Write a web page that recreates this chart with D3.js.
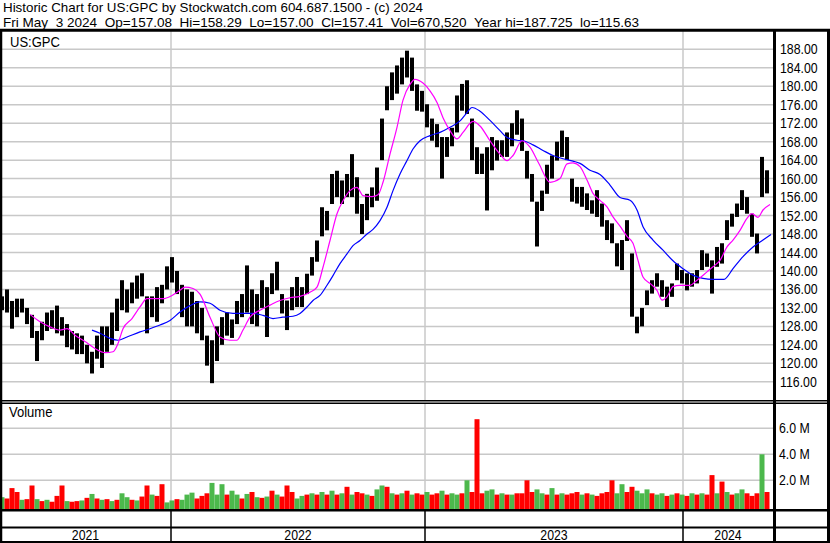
<!DOCTYPE html>
<html><head><meta charset="utf-8">
<script src="https://cdn.jsdelivr.net/npm/d3@7"></script>
<style>
body{margin:0;background:#fff}
svg{display:block}
text{font-family:"Liberation Sans",Arial,sans-serif;fill:#000}
</style>
</head><body>
<svg id="c" width="830" height="543"></svg>
<script>
// ---- data (weekly approximations) ----
const titleLine1 = "Historic Chart for US:GPC by Stockwatch.com 604.687.1500 - (c) 2024";
const titleLine2 = "Fri May  3 2024  Op=157.08  Hi=158.29  Lo=157.00  Cl=157.41  Vol=670,520  Year hi=187.725  lo=115.63";
const symbol = "US:GPC";
const yearLabels = ["2021","2022","2023","2024"];
const yearStartWeeks = [33.8, 84.6, 136.2];   // week index where 2022, 2023, 2024 begin
const totalWeeks = 153;
const priceTicks = [188,184,180,176,172,168,164,160,156,152,148,144,140,136,132,128,124,120,116];
const volTicks = [6,4,2];

const weeklyHigh = [134.5,136,133.5,134,134,132,130.5,127,129,131,131.5,132.5,130,128.5,127,126.5,126,124,122.5,126,
128,128,131,134,138,136,137.5,139,139.5,134.5,134.5,136.5,137,141,143,140,137,136,135.5,133.5,
132,126,125,128,130,131,129.5,133.5,135,141.2,136,135,138,136.5,139.5,142,135,133.6,136.5,138.7,
136.5,139.4,143,146.6,153.8,153,161,161.7,159.6,161,165.3,160.3,154.5,156.7,158.1,162.4,173,180,183,184.5,
186.2,187.7,186.2,180.4,179,176.1,173,171.8,169,169,171,178,180.5,181.3,173,166.8,165.4,166.8,169,168.3,
168.3,170,172,174.8,173,166,161,155,157.4,163,165,168,170.4,169,160,158.2,158.2,156.8,155.3,157.5,
154.6,151,150.3,146,146.7,151,143.8,130.1,132,135.8,138,139.5,138,136.6,137.3,141.6,140.2,139.5,139.5,140.2,
144.5,143.8,142.3,145.2,146,151,152.4,154.6,157.5,156,152.4,148.1,164.7,161.8];
const weeklyLow = [131.5,131,127.5,130,131,128.5,125.5,120.5,125,127,127.5,126.5,126,123.5,123,122,122,120,117.8,121,
119,122.5,124,127,131.5,131,133,134,134.5,126.5,130,129,133,136,137.5,135,130,128,128,126.5,
125,119.5,115.7,120.5,124,126,125.5,128.5,130,131,128.5,128,132,125.7,135,135.8,130.8,127.2,131.5,132.2,
132.2,135,139,142,147.5,148.8,154.5,156,154.5,156,156,152.4,148,151,153.8,155.2,164,174.8,177,178.4,
180.4,181.9,179,174.7,174.5,171.1,168.2,166.8,160,164.7,167,170,174.7,174,164,161,161,153.1,161.8,163.9,
164.7,164.7,167,169.5,166,160,155,145.3,153,156.7,160,163.9,164.7,164,155,154.6,153.9,153.2,152.4,151.7,
149.6,146.7,146,141,140.2,146.5,130.1,126.5,128,132.6,135.1,136.6,134.4,132.2,134.4,138,137.3,135.8,136.6,137.3,
140.2,140.9,135.1,140.9,141.6,146.7,149.6,151.7,153.2,152.4,147.4,143.8,156,156.8];

// moving averages: [week index, price]
const maShort = [[5.6,130.6],[7.6,129],[9.6,127.9],[11.6,127.2],[13,127.5],[14.6,126.1],[16.6,124.7],[18.6,123.2],[20.6,122.3],[22.2,122.5],
[23.2,124.3],[24.2,127.5],[26,129.7],[27.6,132.2],[29,134],[30.6,134],[32.2,134],[34,134.7],[35.6,135.8],[36.6,136.5],
[38.2,136.2],[39.6,135],[41.6,130],[43.6,125.7],[45.6,125],[47,125],[48.2,127.2],[49.6,130],[51.6,131.5],[53.6,132.6],
[55.6,133.6],[57.6,134.2],[59.6,134.5],[61.6,135.4],[63,136.5],[64.2,140.8],[65.6,146.6],[67,152.4],[68.2,155.2],[69.6,157.4],
[71,158.1],[72.2,156.3],[74,156.1],[75.2,156.5],[76.2,159.2],[77.6,165.3],[79,171.1],[80.2,177],[81.6,180.4],[82.6,181.5],
[84.2,180.7],[85.6,179],[87,176.5],[88.2,173.2],[89.6,170.4],[91,168.6],[92.2,170],[94.2,172.4],[95.6,171.4],[97.6,168.2],
[99.6,165.3],[101,163.9],[102.2,165],[104,168.2],[105.6,166.8],[107.4,163.2],[109.6,159.2],[111.6,160],[113,163.2],[114.2,163.4],
[115.6,162.6],[117,159.7],[118.2,156.8],[119.6,155.3],[121,153.9],[122.2,151.7],[123.6,149.7],[125,147.5],[126.2,146],[127.2,142.3],
[128.2,138.7],[129.6,137.3],[131,135.8],[132,133.7],[133,134.4],[134.2,136.6],[135.6,136.9],[137.6,136.9],[139,138],[141,139.8],
[142.2,140.9],[143.6,142.3],[145,145.2],[146.2,146.7],[147.6,148.8],[149,151.4],[150,152.4],[151.2,151.6],[152.2,153.2],[153.6,154.4]];
const maLong = [[18,127.2],[19.6,126.5],[21.6,125.4],[23.2,125],[25,125.7],[27.6,126.8],[29.6,127.5],[31.6,128.3],[33.6,129.3],[35.6,131.1],
[37.6,132.5],[39.6,133.3],[41.6,133],[43.6,131.5],[46.2,130.8],[48.2,130.8],[50.2,130.8],[52.2,130.4],[54.2,129.7],[56.2,130],
[58.2,130.2],[59.6,130.8],[61,132.2],[62.2,133.6],[63.6,134.7],[65,136.9],[66.2,139],[67.6,141.6],[69,143.7],[70.2,145.5],
[71.6,146.6],[73,148],[74.2,149],[75.6,150.9],[77,153.8],[78.2,157.4],[79.6,161],[81,163.9],[82.2,166.4],[83.6,168.2],
[85.6,169.3],[87.6,170],[89.6,171.1],[91.6,172.5],[93,174.3],[94,175.4],[95.6,174.6],[97.6,172.6],[99.6,170.4],[101,168.9],
[103,168.3],[104.2,168.2],[106.2,167.3],[108.2,166.1],[110.2,165],[112.2,164.3],[114.2,163.8],[115.6,163.3],[117.6,161.8],[119.6,160.9],
[121.6,158.6],[123.6,155.9],[125.6,155.3],[127,153.2],[128.2,149.6],[130.2,146.7],[132.2,144.5],[134.2,142.2],[136.2,140.5],[138.2,139.1],
[140.2,138.4],[142.2,138.2],[144.4,138.2],[146.2,140.5],[148.2,143.1],[150.2,145.2],[152.2,146.7],[153.8,147.9]];

// volume (millions, typical daily level per week)
const weeklyVolume = [0.7,0.6,1.4,1.1,0.5,0.55,1.6,0.55,0.4,0.5,0.35,0.8,1.6,0.4,0.35,0.4,0.45,0.65,0.95,0.6,
0.5,0.55,0.4,0.5,1.0,0.7,0.5,0.45,0.75,1.6,0.9,0.8,1.7,0.3,0.45,0.55,0.5,0.9,1.05,0.6,
0.8,1.0,1.8,0.9,1.7,0.9,1.2,0.9,0.6,0.95,1.1,0.7,0.65,0.75,1.2,0.9,0.75,1.6,1.1,0.6,
0.8,0.9,1.0,0.9,1.1,0.9,1.2,0.9,1.0,1.5,0.9,1.1,1.0,0.9,0.8,1.3,1.6,1.5,1.0,0.9,
1.0,1.2,0.9,1.0,0.9,1.1,0.9,1.0,1.2,0.9,1.0,0.9,1.0,2.0,1.1,6.7,1.0,1.2,1.3,0.9,
1.0,0.9,0.9,1.0,1.0,2.0,1.1,1.3,1.0,0.9,1.4,0.9,1.0,0.9,1.0,1.1,0.9,1.0,0.9,0.8,
1.0,1.1,2.0,1.0,1.7,1.1,1.5,1.2,1.0,1.3,1.0,0.9,1.0,0.8,0.9,1.0,0.9,0.8,1.0,0.9,
1.0,0.9,2.4,1.0,1.9,1.1,0.9,1.0,1.3,1.0,0.8,1.0,4.0,1.1];
// "g" = up week (green), "r" = down week (red)
const weeklyDir = [
"g","r","r","r","g","r","r","g","r","g",
"r","r","r","g","r","r","g","r","g","r",
"g","r","g","r","g","g","r","g","r","r",
"g","r","r","g","g","r","g","g","g","r",
"r","r","g","g","g","r","g","g","r","g",
"r","g","r","g","r","g","r","r","r","g",
"g","r","g","r","g","r","g","r","g","r",
"g","r","r","g","r","g","g","r","g","r",
"g","r","g","r","r","g","r","r","g","r",
"g","g","r","g","r","r","r","g","g","r",
"g","r","g","r","r","r","r","g","g","r",
"g","r","g","r","r","r","g","r","g","r",
"r","r","r","g","g","r","r","g","g","g",
"r","g","g","r","g","r","g","r","g","r",
"g","r","r","g","r","g","r","g","g","r",
"r","r","g","r"];

// ---- drawing ----
const svg = d3.select("#c");
const W = 830;
const plotL = 2, plotR = 773;
const x = d3.scaleLinear().domain([0, totalWeeks]).range([2, 767]);
const y = d3.scaleLinear().domain([116, 188]).range([381.8, 49.3]);
const yv = d3.scaleLinear().domain([0, 6]).range([506.3, 428.3]);
const fs = 14;

svg.append("rect").attr("width",830).attr("height",543).attr("fill","#fff");

// gridlines
const grid = svg.append("g").attr("stroke","#c8c8c8").attr("stroke-width",1.5);
grid.selectAll(".hp").data(priceTicks).join("line").attr("class","hp")
  .attr("x1",plotL).attr("x2",plotR).attr("y1",d=>y(d)).attr("y2",d=>y(d));
grid.selectAll(".hv").data(volTicks).join("line").attr("class","hv")
  .attr("x1",plotL).attr("x2",plotR).attr("y1",d=>yv(d)).attr("y2",d=>yv(d));
yearStartWeeks.forEach(w=>{
  grid.append("line").attr("x1",x(w)).attr("x2",x(w)).attr("y1",31).attr("y2",400);
  grid.append("line").attr("x1",x(w)).attr("x2",x(w)).attr("y1",404).attr("y2",509);
});

// volume bars
svg.append("g").selectAll("rect").data(d3.range(weeklyVolume.length)).join("rect")
  .attr("x",i=>x(i)-2.5).attr("width",5)
  .attr("y",i=>yv(weeklyVolume[i])).attr("height",i=>509-yv(weeklyVolume[i]))
  .attr("fill",i=>weeklyDir[i]==="g"?"#4cb84c":"#ff0000");

// price bars
svg.append("g").selectAll("rect").data(d3.range(weeklyHigh.length)).join("rect")
  .attr("x",i=>x(i)-2).attr("width",4)
  .attr("y",i=>y(weeklyHigh[i])).attr("height",i=>y(weeklyLow[i])-y(weeklyHigh[i]))
  .attr("fill","#000");

// moving averages
const line = d3.line().x(d=>x(d[0])).y(d=>y(d[1])).curve(d3.curveMonotoneX);
svg.append("path").attr("d",line(maLong)).attr("fill","none").attr("stroke","#0000ff").attr("stroke-width",1.2);
svg.append("path").attr("d",line(maShort)).attr("fill","none").attr("stroke","#ff00ff").attr("stroke-width",1.2);

// frame lines
const fr = svg.append("g").attr("stroke","#000");
fr.append("line").attr("x1",0).attr("x2",W).attr("y1",30.3).attr("y2",30.3).attr("stroke-width",3);
fr.append("line").attr("x1",1).attr("x2",1).attr("y1",29).attr("y2",543).attr("stroke-width",2.5);
fr.append("line").attr("x1",828.5).attr("x2",828.5).attr("y1",29).attr("y2",543).attr("stroke-width",3);
fr.append("line").attr("x1",774.5).attr("x2",774.5).attr("y1",29).attr("y2",543).attr("stroke-width",3);
fr.append("line").attr("x1",0).attr("x2",W).attr("y1",400.8).attr("y2",400.8).attr("stroke-width",1.6);
fr.append("line").attr("x1",0).attr("x2",W).attr("y1",403.2).attr("y2",403.2).attr("stroke-width",1.6);
fr.append("line").attr("x1",0).attr("x2",W).attr("y1",510.3).attr("y2",510.3).attr("stroke-width",2.6);
fr.append("line").attr("x1",0).attr("x2",W).attr("y1",527.5).attr("y2",527.5).attr("stroke-width",2);
fr.append("line").attr("x1",0).attr("x2",W).attr("y1",542).attr("y2",542).attr("stroke-width",2);
yearStartWeeks.forEach(w=>{
  fr.append("line").attr("x1",x(w)).attr("x2",x(w)).attr("y1",511).attr("y2",543).attr("stroke-width",1.5);
});

// texts
const T = svg.append("g").attr("font-size",fs+"px");
const nb = s => s.replace(/ /g,"\u00a0");
T.append("text").attr("x",3).attr("y",12).attr("font-size","13.5px").attr("data-w",420).text(nb(titleLine1));
T.append("text").attr("x",3).attr("y",26.5).attr("font-size","13.5px").attr("data-w",636).text(nb(titleLine2));
T.append("text").attr("x",10).attr("y",46.5).attr("data-f",0.93).text(symbol);
T.append("text").attr("x",9).attr("y",417).attr("data-f",0.93).text("Volume");
T.selectAll(".pt").data(priceTicks).join("text").attr("class","pt")
  .attr("x",780).attr("y",d=>y(d)).attr("dy","0.36em").text(d=>d3.format(".2f")(d));
T.selectAll(".vt").data(volTicks).join("text").attr("class","vt")
  .attr("x",779).attr("y",d=>yv(d)).attr("dy","0.36em").text(d=>d3.format(".1f")(d)+"\u00a0M");
const bounds = [0].concat(yearStartWeeks.map(x)).concat([plotR]);
T.selectAll(".yl").data(yearLabels).join("text").attr("class","yl")
  .attr("x",(d,i)=>(bounds[i]+bounds[i+1])/2).attr("y",540).attr("text-anchor","middle").text(d=>d);

// horizontal compression to match the narrow reference lettering
T.selectAll("text").each(function(){
  const el = d3.select(this);
  const len = this.getComputedTextLength();
  const target = el.attr("data-w") ? +el.attr("data-w") : len*(el.attr("data-f") ? +el.attr("data-f") : 0.88);
  el.attr("textLength",target).attr("lengthAdjust","spacingAndGlyphs");
});
</script>
</body></html>
